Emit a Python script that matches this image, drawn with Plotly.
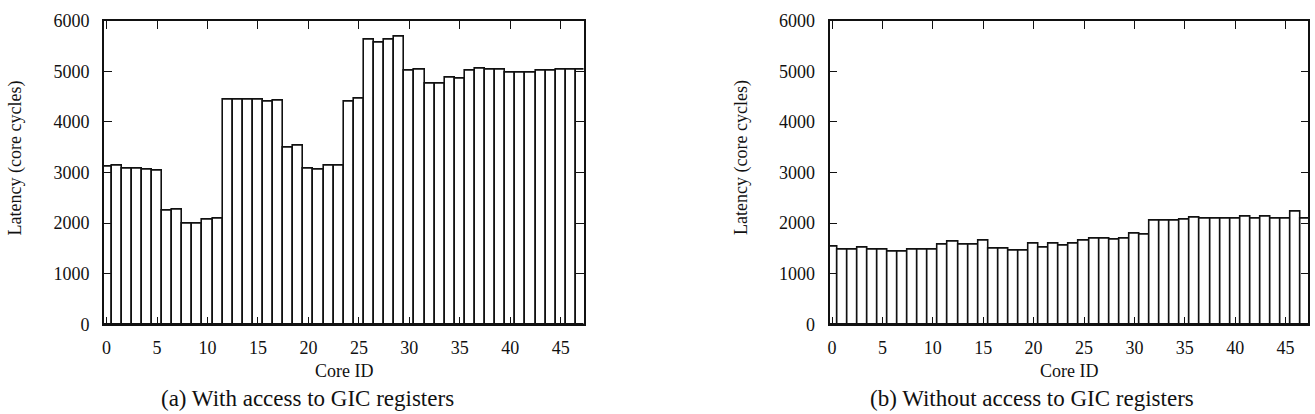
import plotly.graph_objects as go

core_ids = list(range(48))

latency_with_gic = [3110, 3140, 3080, 3080, 3065, 3045, 2240, 2270, 1990, 1980,
                    2070, 2080, 4430, 4430, 4445, 4445, 4390, 4415, 3495, 3520,
                    3070, 3060, 3140, 3140, 4395, 4455, 5630, 5570, 5630, 5685,
                    5005, 5025, 4760, 4760, 4880, 4860, 5005, 5050, 5025, 5025,
                    4980, 4980, 4980, 5010, 5010, 5040, 5040, 5035]

latency_without_gic = [1540, 1475, 1475, 1510, 1475, 1475, 1440, 1440, 1470, 1470,
                       1470, 1580, 1630, 1565, 1580, 1655, 1485, 1485, 1450, 1450,
                       1595, 1515, 1590, 1545, 1595, 1650, 1690, 1690, 1670, 1690,
                       1785, 1775, 2045, 2045, 2045, 2070, 2105, 2095, 2095, 2095,
                       2095, 2125, 2090, 2135, 2090, 2090, 2235, 2095]

x_ticks = [0, 5, 10, 15, 20, 25, 30, 35, 40, 45]
y_ticks = [0, 1000, 2000, 3000, 4000, 5000, 6000]
captions = ["(a) With access to GIC registers", "(b) Without access to GIC registers"]
x_title = "Core ID"
y_title = "Latency (core cycles)"

W, H = 1315, 414
FONT = "Liberation Serif, Times New Roman, Times, serif"
BLACK = "#111111"

fig = go.Figure()
for series, xa, ya in [(latency_with_gic, "x", "y"), (latency_without_gic, "x2", "y2")]:
    fig.add_trace(go.Bar(
        x=core_ids, y=series, xaxis=xa, yaxis=ya,
        width=1.0,
        marker=dict(color="white", line=dict(color=BLACK, width=1.6)),
        showlegend=False,
    ))

def xax(domain, anchor):
    return dict(domain=domain, anchor=anchor, range=[-0.25, 47.25], automargin=False,
                tickmode="array", tickvals=x_ticks, ticktext=[str(v) for v in x_ticks],
                ticks="inside", ticklen=8, tickwidth=1.3, tickcolor=BLACK,
                showline=True, linecolor=BLACK, linewidth=1.6, mirror="ticks",
                showgrid=False, zeroline=False, ticklabelstandoff=6,
                tickfont=dict(family=FONT, size=18, color=BLACK))

def yax(domain, anchor):
    return dict(domain=domain, anchor=anchor, range=[0, 6000], automargin=False,
                tickmode="array", tickvals=y_ticks, ticktext=[str(v) for v in y_ticks],
                ticks="inside", ticklen=8, tickwidth=1.3, tickcolor=BLACK,
                showline=True, linecolor=BLACK, linewidth=1.6, mirror="ticks",
                showgrid=False, zeroline=False, ticklabelstandoff=9,
                tickfont=dict(family=FONT, size=18, color=BLACK))

ydom = [1 - 324.3 / H, 1 - 20.7 / H]
fig.update_layout(
    width=W, height=H,
    margin=dict(l=0, r=0, t=0, b=0, autoexpand=False),
    paper_bgcolor="white", plot_bgcolor="white",
    bargap=0,
    font=dict(family=FONT, color=BLACK),
    xaxis=xax([104 / W, 583.5 / W], "y"),
    yaxis=yax(ydom, "x"),
    xaxis2=xax([829.5 / W, 1308.3 / W], "y2"),
    yaxis2=yax(ydom, "x2"),
)

ann = []
for cx_plot, cx_cap, cx_ylab, cap in [(343.8, 307, 15.5, captions[0]),
                                       (1068.9, 1032, 742, captions[1])]:
    ann.append(dict(text=x_title, x=cx_plot / W, y=1 - 371 / H, xref="paper", yref="paper",
                    xanchor="center", yanchor="middle", showarrow=False,
                    font=dict(family=FONT, size=18, color=BLACK)))
    ann.append(dict(text=cap, x=cx_cap / W, y=1 - 398 / H, xref="paper", yref="paper",
                    xanchor="center", yanchor="middle", showarrow=False,
                    font=dict(family=FONT, size=23, color=BLACK)))
    ann.append(dict(text=y_title, x=cx_ylab / W, y=1 - 158 / H, xref="paper", yref="paper",
                    xanchor="center", yanchor="middle", showarrow=False, textangle=-90,
                    font=dict(family=FONT, size=18, color=BLACK)))
fig.update_layout(annotations=ann)

fig.write_html("out.html")
